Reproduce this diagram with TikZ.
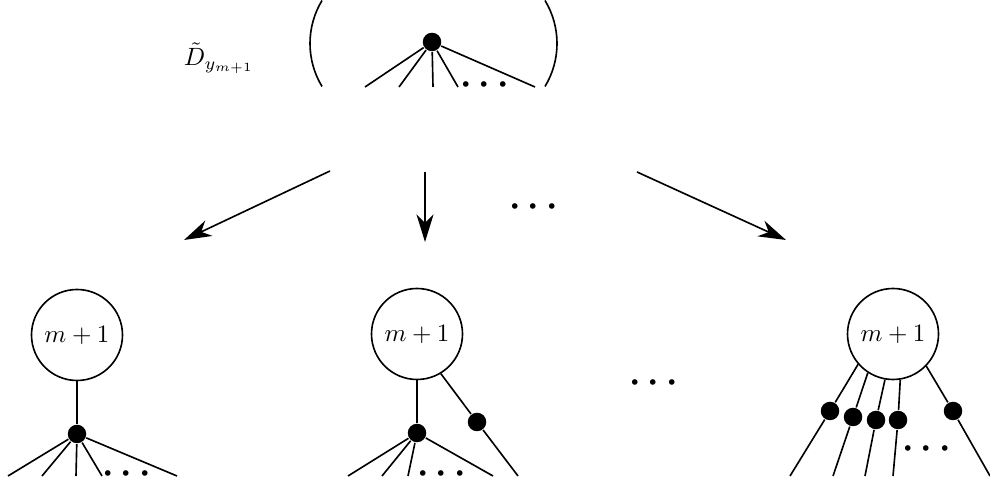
\documentclass[tikz,border=0pt]{standalone}
\usepackage{amsmath,amssymb}
\usetikzlibrary{arrows.meta}

\begin{document}
\begin{tikzpicture}[x=0.4pt,y=0.4pt,line width=0.65pt,
    vert/.style={circle,fill=black,inner sep=0pt,minimum size=7.4pt},
    blob/.style={circle,draw,inner sep=0pt,minimum size=36.4pt},
    dots/.style={inner sep=0pt,font=\Large\boldmath},
    arr/.style={-{Stealth[length=11pt,width=6.8pt,inset=3.4pt]}}]
    \useasboundingbox (0,0) rectangle (990,484);
    %top tree
    \node (label) at (219,426) {$\tilde{D}_{y_{m+1}}$};
    \draw (322,483.5) arc[start angle=148.8,end angle=211.2,radius=83];
    \draw (545,483.5) arc[start angle=31.2,end angle=-31.2,radius=83];
    \node[vert] (top) at (432,442) {};
    \coordinate (t1) at (365,397);
    \coordinate (t2) at (399,397);
    \coordinate (t3) at (433,397);
    \coordinate (t4) at (458,397);
    \coordinate (t5) at (535,397);
    \node[dots] (tdots) at (488,399) {$\cdots$};
    \draw (top) -- (t1) (top) -- (t2) (top) -- (t3) (top) -- (t4) (top) -- (t5);
    %arrows
    \coordinate (a1s) at (330,313);
    \coordinate (a1e) at (184,244);
    \coordinate (a2s) at (425,312);
    \coordinate (a2e) at (425,242);
    \coordinate (a3s) at (637,312);
    \coordinate (a3e) at (786,244);
    \draw[arr] (a1s) -- (a1e);
    \draw[arr] (a2s) -- (a2e);
    \draw[arr] (a3s) -- (a3e);
    \node[dots] (adots) at (537,277) {$\cdots$};
    %left tree
    \node[blob] (L) at (77,149) {$m+1$};
    \node[vert] (Lv) at (77,50) {};
    \coordinate (l1) at (8,8);
    \coordinate (l2) at (42,8);
    \coordinate (l3) at (76,8);
    \coordinate (l4) at (102,8);
    \coordinate (l5) at (177,8);
    \node[dots] (ldots) at (130,10) {$\cdots$};
    \draw (L) -- (Lv);
    \draw (Lv) -- (l1) (Lv) -- (l2) (Lv) -- (l3) (Lv) -- (l4) (Lv) -- (l5);
    %middle tree
    \node[blob] (M) at (417,150) {$m+1$};
    \node[vert] (Mv) at (417,51) {};
    \node[vert] (Mw) at (477,62) {};
    \coordinate (m1) at (348,8);
    \coordinate (m2) at (382,8);
    \coordinate (m3) at (408,8);
    \coordinate (m4) at (493,8);
    \coordinate (m5) at (518,8);
    \node[dots] (mdots) at (445,10) {$\cdots$};
    \draw (M) -- (Mv);
    \draw (Mv) -- (m1) (Mv) -- (m2) (Mv) -- (m3) (Mv) -- (m4);
    \draw (M.301) -- (Mw) -- (m5);
    \node[dots] (bdots) at (657,101) {$\cdots$};
    %right tree
    \node[blob] (R) at (893,150) {$m+1$};
    \node[vert] (r1) at (830,73) {};
    \node[vert] (r2) at (853,67) {};
    \node[vert] (r3) at (876,64) {};
    \node[vert] (r4) at (898,64) {};
    \node[vert] (r5) at (953,73) {};
    \coordinate (e1) at (790,8);
    \coordinate (e2) at (833,8);
    \coordinate (e3) at (865,8);
    \coordinate (e4) at (893,8);
    \coordinate (e5) at (990,8);
    \node[dots] (rdots) at (930,35) {$\cdots$};
    \draw (R.221) -- (r1) -- (e1);
    \draw (R.237) -- (r2) -- (e2);
    \draw (R.260) -- (r3) -- (e3);
    \draw (R.279) -- (r4) -- (e4);
    \draw (R.316) -- (r5) -- (e5);
\end{tikzpicture}
\end{document}
